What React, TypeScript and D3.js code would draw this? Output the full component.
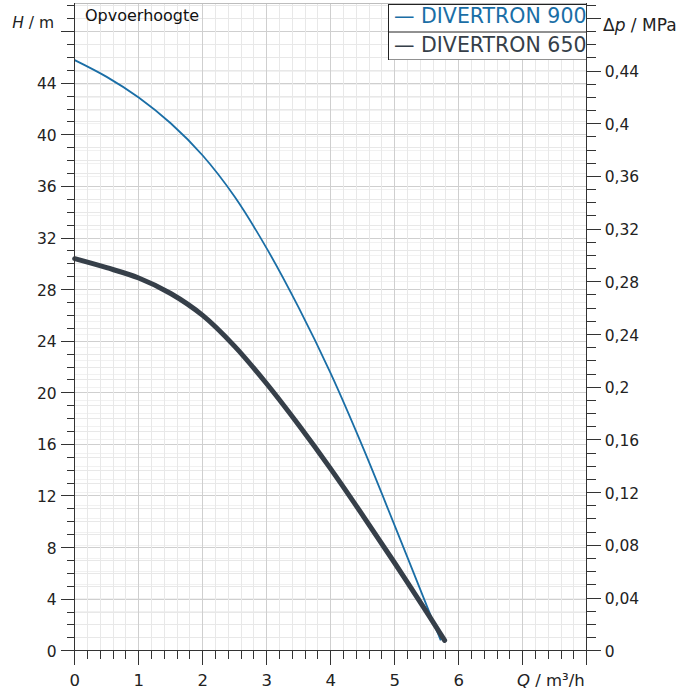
import { useMemo } from 'react';
import * as d3 from 'd3';

// Pump curves (Q in m³/h, H in m)
const DIV900_Q = [0, 0.5, 1, 1.5, 2, 2.5, 3, 3.5, 4, 4.5, 5, 5.5, 5.72];
const DIV900_H = [45.8, 44.5, 42.9, 40.9, 38.4, 35.2, 31.2, 26.6, 21.5, 15.8, 9.7, 3.5, 0.8];
const DIV650_Q = [0, 0.5, 1, 1.5, 2, 2.5, 3, 3.5, 4, 4.5, 5, 5.5, 5.78];
const DIV650_H = [30.4, 29.7, 28.9, 27.7, 26.0, 23.6, 20.7, 17.5, 14.1, 10.5, 6.8, 3.0, 0.8];

const SERIES_NAMES = ['DIVERTRON 900', 'DIVERTRON 650'];
const SERIES_COLORS = ['#1a6ea6', '#363f49'];

const X_LABELS = ['0', '1', '2', '3', '4', '5', '6'];
const Y_LABELS = ['0', '4', '8', '12', '16', '20', '24', '28', '32', '36', '40', '44'];
const P_LABELS = ['0', '0,04', '0,08', '0,12', '0,16', '0,2', '0,24', '0,28', '0,32', '0,36', '0,4', '0,44'];

const WIDTH = 692;
const HEIGHT = 690;
const FONT = 'DejaVu Sans, Verdana, sans-serif';
const AXIS = '#333333';

export default function App() {
  const x = useMemo(() => d3.scaleLinear().domain([0, 8]).range([74.7, 586.7]), []);
  const y = useMemo(() => d3.scaleLinear().domain([0, 44]).range([650.7, 83.3]), []);
  const yp = useMemo(() => d3.scaleLinear().domain([0, 0.44]).range([650.7, 71]), []);

  const top = 3;
  const left = x(0);
  const right = x(8);
  const bottom = y(0);

  const qMinor = d3.range(0, 40.01, 1).map((i) => i / 5);
  const hMinor = d3.range(0, 51, 1);
  const pMinor = d3.range(0, 50, 1).map((i) => i / 100);

  const series = [
    DIV900_Q.map((q, i) => [q, DIV900_H[i]] as [number, number]),
    DIV650_Q.map((q, i) => [q, DIV650_H[i]] as [number, number]),
  ];
  const line = d3
    .line<[number, number]>()
    .x((d) => x(d[0]))
    .y((d) => y(d[1]))
    .curve(d3.curveCatmullRom.alpha(0.5));

  return (
    <svg
      width={WIDTH}
      height={HEIGHT}
      style={{ position: 'absolute', left: 0, top: 0, background: '#ffffff' }}
      fontFamily={FONT}
    >
      {/* ---- grid ---- */}
      <g shapeRendering="crispEdges">
        {pMinor.map((p) => (
          <line key={'p' + p} x1={left} x2={right} y1={yp(p)} y2={yp(p)} stroke="#f1f1f1" />
        ))}
        {hMinor.map((h) => (
          <line key={'h' + h} x1={left} x2={right} y1={y(h)} y2={y(h)} stroke={h % 4 === 0 ? '#cfcfcf' : '#e8e8e8'} />
        ))}
        {qMinor.map((q, i) => (
          <line key={'q' + q} x1={x(q)} x2={x(q)} y1={top} y2={bottom} stroke={i % 5 === 0 ? '#cfcfcf' : '#e8e8e8'} />
        ))}
        <line x1={left} x2={right} y1={top} y2={top} stroke="#bdbdbd" />
      </g>

      {/* ---- curves ---- */}
      <path d={line(series[0]) ?? ''} fill="none" stroke={SERIES_COLORS[0]} strokeWidth={1.8} />
      <path d={line(series[1]) ?? ''} fill="none" stroke={SERIES_COLORS[1]} strokeWidth={5} strokeLinecap="round" strokeLinejoin="round" />

      {/* ---- left axis ---- */}
      <g shapeRendering="crispEdges">
        <line x1={left} x2={left} y1={top} y2={bottom} stroke={AXIS} strokeWidth={1.5} />
        {hMinor.map((h) => (
          <line key={'lt' + h} x1={h % 4 === 0 ? left - 14 : left - 8} x2={left} y1={y(h)} y2={y(h)} stroke={AXIS} />
        ))}
      </g>
      {Y_LABELS.map((t, i) => (
        <text key={'yl' + t} x={left - 18} y={y(i * 4) + 6} textAnchor="end" fontSize={15.5} fill="#222">
          {t}
        </text>
      ))}
      <text x={54} y={28} textAnchor="end" fontSize={15.5} fill="#222">
        <tspan fontStyle="italic">H</tspan> / m
      </text>
      <text x={85} y={21} fontSize={16} fill="#111">
        Opvoerhoogte
      </text>

      {/* ---- right axis ---- */}
      <g shapeRendering="crispEdges">
        <line x1={right} x2={right} y1={top} y2={bottom} stroke={AXIS} strokeWidth={1.5} />
        {pMinor.map((p, i) => (
          <line key={'rt' + p} x1={right} x2={i % 4 === 0 ? right + 14 : right + 9} y1={yp(p)} y2={yp(p)} stroke={AXIS} />
        ))}
      </g>
      {P_LABELS.map((t, i) => (
        <text key={'pl' + t} x={right + 18} y={yp(i * 0.04) + 6} fontSize={15.5} fill="#222">
          {t}
        </text>
      ))}
      <text x={603} y={31} fontSize={17} fill="#222">
        Δ<tspan fontStyle="italic">p</tspan> / MPa
      </text>

      {/* ---- bottom axis ---- */}
      <g shapeRendering="crispEdges">
        <line x1={left - 14} x2={right} y1={bottom} y2={bottom} stroke={AXIS} strokeWidth={1.5} />
        {qMinor.map((q, i) => (
          <line key={'bt' + q} x1={x(q)} x2={x(q)} y1={bottom} y2={i % 5 === 0 ? bottom + 14 : bottom + 8} stroke={AXIS} />
        ))}
      </g>
      {X_LABELS.map((t, i) => (
        <text key={'xl' + t} x={x(i)} y={686} textAnchor="middle" fontSize={16.5} fill="#222">
          {t}
        </text>
      ))}
      <text x={right - 2} y={686} textAnchor="end" fontSize={16.5} fill="#222">
        <tspan fontStyle="italic">Q</tspan> / m³/h
      </text>

      {/* ---- legend ---- */}
      <defs>
        <clipPath id="legend-clip">
          <rect x={388} y={4} width={right - 388} height={56} />
        </clipPath>
      </defs>
      <g clipPath="url(#legend-clip)">
        <rect x={388.5} y={4.5} width={right - 388.5} height={55.5} fill="#ffffff" stroke="#222" strokeWidth={1} />
        <line x1={388.5} x2={right} y1={32} y2={32} stroke="#222" strokeWidth={1} />
        {SERIES_NAMES.map((name, i) => (
          <text key={name} x={394} y={23 + i * 28.5} fontSize={20.5} fill={SERIES_COLORS[i]}>
            — {name}
          </text>
        ))}
      </g>
      <line x1={right} x2={right} y1={top} y2={62} stroke={AXIS} strokeWidth={1.5} shapeRendering="crispEdges" />
    </svg>
  );
}
